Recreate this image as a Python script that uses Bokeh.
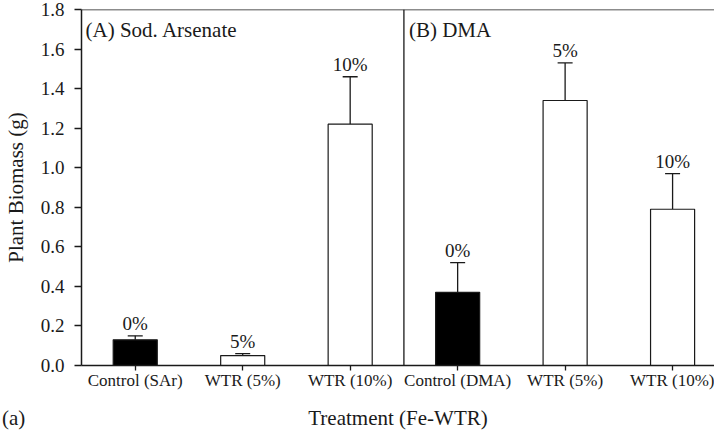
from bokeh.plotting import figure
from bokeh.layouts import column
from bokeh.models import ColumnDataSource, FixedTicker, NumeralTickFormatter, Span, Label, Range1d, Whisker, TeeHead, Div
from bokeh.core.properties import value
from bokeh.embed import file_html
from bokeh.resources import INLINE

categories = ["Control (SAr)", "WTR (5%)", "WTR (10%)", "Control (DMA)", "WTR (5%)", "WTR (10%)"]
biomass = [0.13, 0.05, 1.22, 0.37, 1.34, 0.79]
biomass_err_top = [0.15, 0.06, 1.46, 0.52, 1.53, 0.97]
pct_labels = ["0%", "5%", "10%", "0%", "5%", "10%"]
bar_colors = ["black", "white", "white", "black", "white", "white"]
y_ticks = [0.0, 0.2, 0.4, 0.6, 0.8, 1.0, 1.2, 1.4, 1.6, 1.8]
x_title = "Treatment (Fe-WTR)"
panel_tag = "(a)"

FONT = "Liberation Serif"
INK = "#1a1a1a"
W = 714
LEFT = 74
xs = list(range(len(categories)))

p = figure(width=W, height=392, output_backend="svg", toolbar_location=None,
           x_range=Range1d(-0.5, 5.39), y_range=Range1d(0, 1.8),
           min_border_left=LEFT, min_border_right=0, min_border_top=9, min_border_bottom=26)
p.grid.visible = False
p.outline_line_color = None
p.background_fill_color = "white"

src = ColumnDataSource(dict(x=xs, top=biomass, upper=biomass_err_top, lower=biomass,
                            color=bar_colors, lab=pct_labels))
p.vbar(x="x", top="top", bottom=0, width=0.41, fill_color="color", line_color=INK,
       line_width=1.2, source=src)
p.add_layout(Whisker(base="x", upper="upper", lower="lower", source=src,
                     line_color=INK, line_width=1.3,
                     upper_head=TeeHead(size=15, line_color=INK, line_width=1.3),
                     lower_head=None))
p.text(x="x", y="upper", text="lab", source=src, text_align="center", text_baseline="bottom",
       text_font=value(FONT), text_font_size="19px", text_color=INK, y_offset=-2)

p.add_layout(Span(location=2.5, dimension="height", line_color=INK, line_width=1.3))
p.add_layout(Span(location=1.8, dimension="width", line_color=INK, line_width=1.5))

p.add_layout(Label(x=-0.5, y=1.8, text="(A) Sod. Arsenate", text_font=FONT, text_font_size="21px",
                   text_baseline="top", x_offset=4, y_offset=-8, text_color=INK))
p.add_layout(Label(x=2.5, y=1.8, text="(B) DMA", text_font=FONT, text_font_size="21px",
                   text_baseline="top", x_offset=5, y_offset=-8, text_color=INK))

for ax in (p.xaxis[0], p.yaxis[0]):
    ax.axis_line_width = 1.5
    ax.axis_line_color = INK
    ax.major_tick_line_color = INK
    ax.major_tick_line_width = 1.3
    ax.minor_tick_line_color = None
    ax.major_label_text_font = FONT
    ax.major_label_text_color = INK
    ax.axis_label_text_font = FONT
    ax.axis_label_text_font_size = "21px"
    ax.axis_label_text_font_style = "normal"
    ax.axis_label_text_color = INK

p.yaxis.ticker = FixedTicker(ticks=y_ticks)
p.yaxis.formatter = NumeralTickFormatter(format="0.0")
p.yaxis.major_label_text_font_size = "19px"
p.yaxis.major_label_standoff = 10
p.yaxis.major_tick_out = 7
p.yaxis.major_tick_in = 0
p.yaxis.axis_label = "Plant Biomass (g)"
p.yaxis.axis_label_standoff = 10

p.xaxis.ticker = FixedTicker(ticks=xs)
p.xaxis.major_label_overrides = {i: c for i, c in enumerate(categories)}
p.xaxis.major_label_text_font_size = "17px"
p.xaxis.major_label_standoff = 0
p.xaxis.major_tick_out = 5
p.xaxis.major_tick_in = 0

footer_html = (
    f'<div style="position:relative;width:{W}px;height:37px;font-family:\'{FONT}\';'
    f'font-size:21px;line-height:24px;color:{INK};">'
    f'<span style="position:absolute;left:2px;top:14px;">{panel_tag}</span>'
    f'<span style="position:absolute;left:{LEFT + 4}px;width:{W - LEFT}px;top:14px;'
    f'text-align:center;">{x_title}</span></div>'
)
footer = Div(text=footer_html, width=W, height=37, margin=(0, 0, 0, 0))

layout = column(p, footer, spacing=0)
open("out.html", "w").write(file_html(layout, INLINE))
